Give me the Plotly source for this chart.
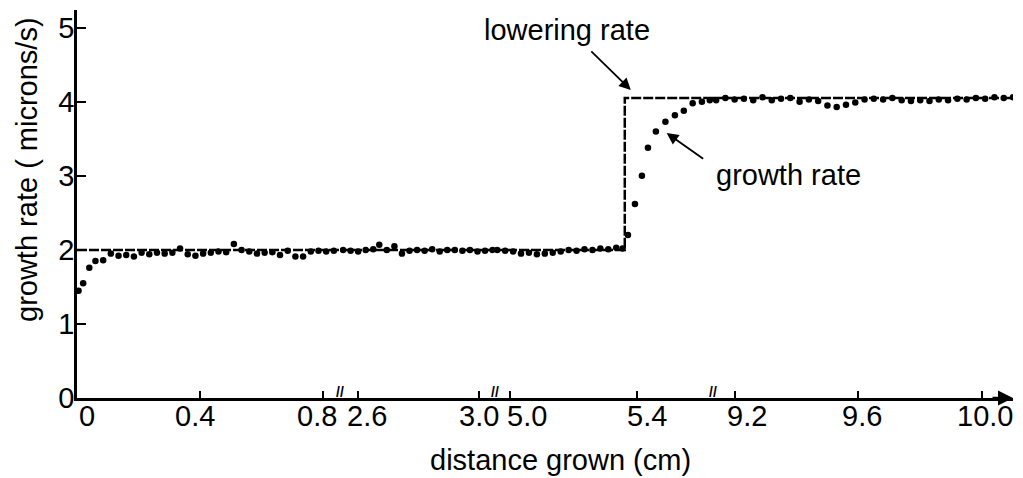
import plotly.graph_objects as go

# ---------- data ----------
# growth rate points, one list per axis segment (broken x axis)
seg1_x = [0.005, 0.02, 0.04, 0.06, 0.085, 0.11, 0.135, 0.16, 0.185, 0.21, 0.235, 0.26,
          0.285, 0.31, 0.335, 0.36, 0.385, 0.41, 0.435, 0.46, 0.485, 0.51, 0.535, 0.56,
          0.585, 0.61, 0.635, 0.66, 0.685, 0.71, 0.735, 0.76, 0.785, 0.81, 0.835]
seg1_y = [1.45, 1.55, 1.76, 1.85, 1.86, 1.95, 1.92, 1.93, 1.91, 1.96, 1.94, 1.96,
          1.95, 1.96, 2.02, 1.94, 1.92, 1.95, 1.96, 1.98, 1.97, 2.08, 2.00, 1.98,
          1.95, 1.96, 1.97, 1.93, 1.99, 1.91, 1.91, 1.98, 1.99, 1.98, 1.99]

seg2_x = [2.55, 2.575, 2.60, 2.625, 2.65, 2.67, 2.695, 2.72, 2.745, 2.77, 2.795,
          2.82, 2.845, 2.87, 2.895, 2.92, 2.945, 2.97, 2.995, 3.02, 3.045]
seg2_y = [2.00, 1.99, 1.98, 2.00, 2.01, 2.07, 2.00, 2.05, 1.95, 1.99, 2.00,
          1.99, 2.01, 1.98, 2.00, 2.00, 1.99, 2.00, 1.98, 1.99, 2.00]

seg3_x = [4.96, 4.985, 5.01, 5.035, 5.06, 5.085, 5.11, 5.135, 5.16, 5.185, 5.21,
          5.235, 5.26, 5.285, 5.31, 5.335, 5.355,
          5.372, 5.394, 5.416, 5.435, 5.46, 5.49, 5.52, 5.548, 5.576, 5.605, 5.63]
seg3_y = [2.00, 1.99, 1.98, 1.95, 1.96, 1.94, 1.95, 1.96, 1.98, 2.00, 1.99,
          2.01, 2.00, 2.02, 2.01, 2.03, 2.02,
          2.20, 2.62, 3.00, 3.38, 3.60, 3.73, 3.82, 3.88, 3.98, 4.00, 4.02]

seg4_x = [9.14, 9.17, 9.20, 9.23, 9.26, 9.29, 9.32, 9.35, 9.38, 9.41, 9.44, 9.47,
          9.50, 9.53, 9.56, 9.59, 9.62, 9.65, 9.68, 9.71, 9.74, 9.77, 9.80, 9.83,
          9.86, 9.89, 9.92, 9.95, 9.98, 10.01, 10.04, 10.07, 10.10]
seg4_y = [4.02, 4.05, 4.03, 4.04, 4.02, 4.06, 4.02, 4.04, 4.05, 4.00, 4.03, 4.01,
          3.95, 3.93, 3.96, 3.99, 4.03, 4.04, 4.03, 4.05, 4.02, 4.01, 4.02, 4.01,
          4.03, 4.02, 4.04, 4.03, 4.05, 4.04, 4.06, 4.05, 4.06]

# lowering rate (step from 2 to ~4.05 microns/s)
low1_x, low1_y = [0, 0.855], [2.0, 2.0]
low2_x, low2_y = [2.54, 3.053], [2.0, 2.0]
low3_x, low3_y = [4.953, 5.362, 5.362, 5.64], [2.0, 2.0, 4.05, 4.05]
low4_x, low4_y = [9.13, 10.10], [4.05, 4.05]

seg_ranges = [[0, 0.855], [2.54, 3.053], [4.953, 5.64], [9.13, 10.10]]
seg_ticks = [[0, 0.4, 0.8], [2.6, 3.0], [5.0, 5.4], [9.2, 9.6, 10.0]]
seg_ticktext = [["0", "0.4", "0.8"], ["2.6", "3.0"], ["5.0", "5.4"], ["9.2", "9.6", "10.0"]]
# labels in the original are printed a little off their ticks
seg_tickshift = [[10, -5, -6], [9, 0], [17, 10], [12, 4, 3]]

# ---------- figure ----------
# page has an 8px body margin; right side of the window is cut near x=1015
W, H = 1015, 470
L, R, T, B = 69, 10, 2, 80
X0, Y0 = 77, 398          # plot area left / bottom in page pixels
pw, ph = W - L - R, H - T - B
edges_px = [77, 340, 495, 713, 1013]
domains = [[(edges_px[i] - X0) / pw, min(1.0, (edges_px[i + 1] - X0) / pw)] for i in range(4)]


def px(x):
    return (x - X0) / pw


def py(y):
    return (Y0 - y) / ph


FONT = "Liberation Sans, Arial, sans-serif"
FS = 29
fig = go.Figure()

axes = ["x", "x2", "x3", "x4"]
pts = [(seg1_x, seg1_y), (seg2_x, seg2_y), (seg3_x, seg3_y), (seg4_x, seg4_y)]
lows = [(low1_x, low1_y), (low2_x, low2_y), (low3_x, low3_y), (low4_x, low4_y)]

for ax, (lx, ly), (sx, sy) in zip(axes, lows, pts):
    fig.add_trace(go.Scatter(x=lx, y=ly, mode="lines", xaxis=ax, yaxis="y",
                             line=dict(color="black", width=2.5, dash="10px,2px"),
                             showlegend=False, hoverinfo="skip"))
    fig.add_trace(go.Scatter(x=sx, y=sy, mode="markers", xaxis=ax, yaxis="y",
                             marker=dict(color="black", size=6.5, symbol="circle"),
                             showlegend=False))

layout = dict(
    width=W, height=H,
    margin=dict(l=L, r=R, t=T, b=B),
    plot_bgcolor="white", paper_bgcolor="white",
    font=dict(family=FONT, size=FS, color="black"),
    yaxis=dict(range=[0, 5.24], tickvals=[0, 1, 2, 3, 4, 5], showgrid=False,
               zeroline=False, showline=True, linecolor="black", linewidth=2.5,
               ticks="inside", ticklen=9, tickwidth=2, tickcolor="black",
               anchor="x", ticklabelstandoff=-6),
)
for i, ax in enumerate(axes):
    key = "xaxis" if i == 0 else f"xaxis{i + 1}"
    layout[key] = dict(domain=domains[i], range=seg_ranges[i], tickvals=seg_ticks[i],
                       showticklabels=False, showgrid=False, zeroline=False,
                       showline=True, linecolor="black", linewidth=2.5,
                       ticks="inside", ticklen=7, tickwidth=2, tickcolor="black",
                       anchor="y")
fig.update_layout(**layout)

ann = []
# x tick labels
for i, ax in enumerate(axes):
    for v, t, s in zip(seg_ticks[i], seg_ticktext[i], seg_tickshift[i]):
        ann.append(dict(text=t, xref=ax, yref="paper", x=v, y=0, xshift=s, yshift=-1,
                        xanchor="center", yanchor="top", showarrow=False, borderpad=0))
# axis titles
ann.append(dict(text="distance grown (cm)", xref="paper", yref="paper",
                x=px(560), y=py(460), xanchor="center", yanchor="middle",
                showarrow=False))
ann.append(dict(text="growth rate ( microns/s)", xref="paper", yref="paper",
                x=px(27), y=py(170), xanchor="center", yanchor="middle",
                showarrow=False, textangle=-90))
# break marks on the x axis
for bx in edges_px[1:4]:
    ann.append(dict(text="<b>//</b>", xref="paper", yref="paper", x=px(bx), y=0,
                    xanchor="center", yanchor="middle", showarrow=False,
                    font=dict(size=14), yshift=6, borderpad=0))
# arrow at the right end of the x axis
ann.append(dict(text="", xref="x4", yref="y", x=10.10, y=0, ax=-22, ay=0,
                showarrow=True, arrowhead=2, arrowsize=1.2, arrowwidth=2.5,
                arrowcolor="black"))
# labels with arrows
ann.append(dict(text="lowering rate", xref="paper", yref="paper",
                x=px(567), y=py(30), xanchor="center", yanchor="middle",
                showarrow=False))
ann.append(dict(text="", xref="x3", yref="y", x=5.381, y=4.16, ax=-41, ay=-40,
                showarrow=True, arrowhead=2, arrowsize=1.3, arrowwidth=1.8,
                arrowcolor="black"))
ann.append(dict(text="growth rate", xref="paper", yref="paper",
                x=px(788), y=py(175), xanchor="center", yanchor="middle",
                showarrow=False))
ann.append(dict(text="", xref="x3", yref="y", x=5.494, y=3.58, ax=38, ay=27,
                showarrow=True, arrowhead=2, arrowsize=1.3, arrowwidth=1.8,
                arrowcolor="black"))
fig.update_layout(annotations=ann)

fig.write_html("out.html")
